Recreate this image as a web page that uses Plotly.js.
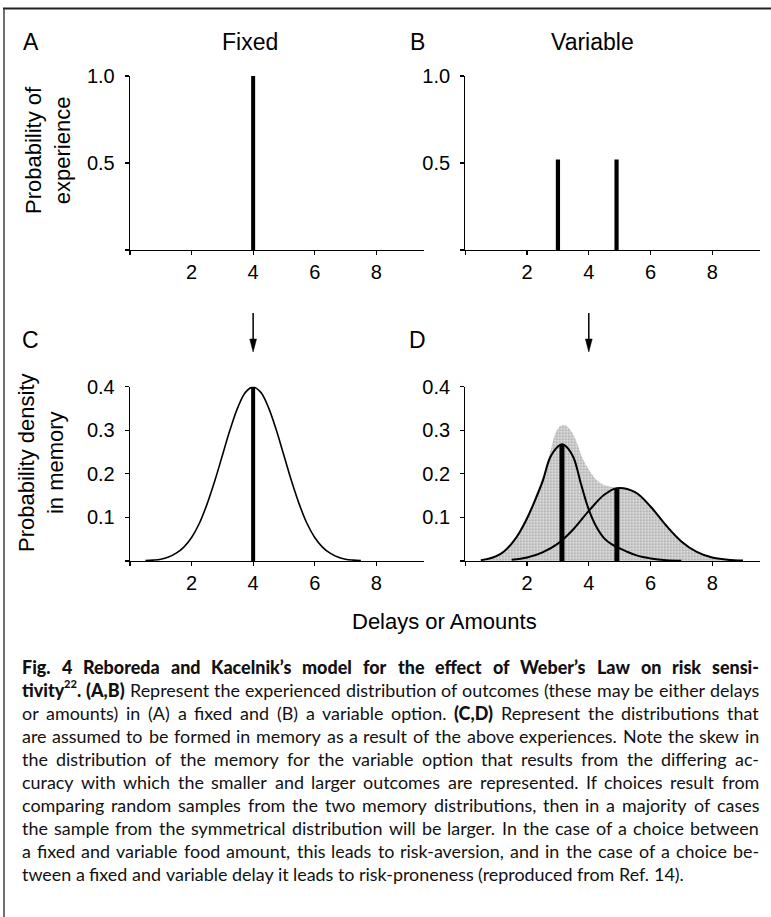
<!DOCTYPE html>
<html>
<head>
<meta charset="utf-8">
<script src="https://cdn.plot.ly/plotly-3.0.1.min.js"></script>
<style>
  html, body { margin: 0; padding: 0; background: #fff; }
  #chart { width: 771px; height: 917px; }
</style>
</head>
<body>
<div id="chart"></div>
<script>
// ---------------- data ----------------
const xTickVals = [0, 2, 4, 6, 8];
const xTickText = ['', '2', '4', '6', '8'];
const topTickVals = [0, 0.5, 1.0];
const topTickText = ['', '0.5', '1.0'];
const bottomTickVals = [0, 0.1, 0.2, 0.3, 0.4];
const bottomTickText = ['', '0.1', '0.2', '0.3', '0.4'];

// A: fixed option, experienced outcomes
const fixedX = [4];
const fixedProb = [1.0];
// B: variable option, experienced outcomes
const variableX = [3.0, 4.9];
const variableProb = [0.52, 0.52];

// C: memory of the fixed option
const memFixedX = [0.5, 0.75, 1, 1.25, 1.5, 1.75, 2, 2.25, 2.5, 2.75, 3, 3.25, 3.5, 3.75, 4,
                   4.25, 4.5, 4.75, 5, 5.25, 5.5, 5.75, 6, 6.25, 6.5, 6.75, 7, 7.25, 7.5];
const memFixedY = [0.001, 0.002, 0.004, 0.009, 0.018, 0.032, 0.054, 0.086, 0.130, 0.183, 0.242, 0.301, 0.352, 0.387, 0.399,
                   0.387, 0.352, 0.301, 0.242, 0.183, 0.130, 0.086, 0.054, 0.032, 0.018, 0.009, 0.004, 0.002, 0.001];
const memFixedMeanX = [4];
const memFixedMeanY = [0.4];

// D: memory of the variable option (small and large outcome)
const memSmallX = [0.5, 0.75, 1, 1.25, 1.5, 1.75, 2, 2.25, 2.5, 2.75, 3, 3.13, 3.25, 3.5, 3.75, 4,
                   4.25, 4.5, 4.75, 5, 5.25, 5.5, 5.75, 6, 6.5, 7];
const memSmallY = [0.002, 0.005, 0.011, 0.022, 0.040, 0.065, 0.098, 0.138, 0.182, 0.238, 0.263, 0.268, 0.264, 0.238, 0.176, 0.118,
                   0.078, 0.052, 0.038, 0.029, 0.021, 0.014, 0.009, 0.006, 0.002, 0.0005];
const memLargeX = [1.5, 2, 2.5, 3, 3.5, 4, 4.5, 4.9, 5.5, 6, 6.5, 7, 7.5, 8, 8.5, 9];
const memLargeY = [0.003, 0.008, 0.020, 0.040, 0.073, 0.115, 0.152, 0.167, 0.158, 0.125, 0.082, 0.045, 0.021, 0.008, 0.003, 0.001];
const memCombinedX = [0.5, 1, 1.5, 2, 2.25, 2.5, 2.75, 2.9, 3.05, 3.2, 3.35, 3.5, 3.65, 3.8, 4,
                      4.2, 4.4, 4.6, 4.9, 5.5, 6, 6.5, 7, 7.5, 8, 8.5, 9];
const memCombinedY = [0.002, 0.012, 0.042, 0.104, 0.146, 0.193, 0.25, 0.29, 0.308, 0.312, 0.305, 0.29, 0.265, 0.235, 0.21,
                      0.19, 0.178, 0.172, 0.168, 0.16, 0.128, 0.085, 0.047, 0.022, 0.009, 0.003, 0.001];
const memVarMeanX = [3.13, 4.91];
const memVarMeanY = [0.268, 0.167];

// text
const panelLetters = ['A', 'B', 'C', 'D'];
const panelTitles = ['Fixed', 'Variable'];
const yTitleTop = 'Probability of<br>experience';
const yTitleBottom = 'Probability density<br>in memory';
const xTitle = 'Delays or Amounts';
const captionLines = [
  '<b>Fig. 4 Reboreda and Kacelnik’s model for the effect of Weber’s Law on risk sensi-</b>',
  '<b>tivity<sup>22</sup>. (A,B)</b> Represent the experienced distribution of outcomes (these may be either delays',
  'or amounts) in (A) a fixed and (B) a variable option. <b>(C,D)</b> Represent the distributions that',
  'are assumed to be formed in memory as a result of the above experiences. Note the skew in',
  'the distribution of the memory for the variable option that results from the differing ac-',
  'curacy with which the smaller and larger outcomes are represented. If choices result from',
  'comparing random samples from the two memory distributions, then in a majority of cases',
  'the sample from the symmetrical distribution will be larger. In the case of a choice between',
  'a fixed and variable food amount, this leads to risk-aversion, and in the case of a choice be-',
  'tween a fixed and variable delay it leads to risk-proneness (reproduced from Ref. 14).'
];

// ---------------- layout helpers ----------------
const W = 771, H = 917;
const px = v => v / W;
const py = v => 1 - v / H;
const FONT = 'Liberation Sans, Arial, Helvetica, sans-serif';
const CAP_FONT = 'Lato';

const leftDom = [px(130), px(424)];
const rightDom = [px(465.4), px(760)];
const topDom = [py(250), py(76)];
const botDom = [py(561), py(386.7)];

const axisBase = {
  showline: true, linecolor: '#000', linewidth: 1.3,
  ticks: 'outside', ticklen: 4, tickwidth: 1.2, tickcolor: '#000',
  showgrid: false, zeroline: false, fixedrange: true,
  tickfont: { family: FONT, size: 20, color: '#000' },
  tickmode: 'array'
};
function xAxis(dom, anchor) {
  return Object.assign({}, axisBase, { domain: dom, anchor: anchor, range: [0, 9.55],
    tickvals: xTickVals, ticktext: xTickText, ticklabelstandoff: 0 });
}
function yAxis(dom, anchor, range, vals, text) {
  return Object.assign({}, axisBase, { domain: dom, anchor: anchor, range: range,
    tickvals: vals, ticktext: text, ticklabelstandoff: 6 });
}

// vertical stems built from (x, height) arrays
function stems(xs, ys) {
  const x = [], y = [];
  xs.forEach((v, i) => { x.push(v, v, null); y.push(0, ys[i], null); });
  return { x: x, y: y };
}
function stemTrace(xs, ys, xa, ya, w) {
  const s = stems(xs, ys);
  return { type: 'scatter', mode: 'lines', x: s.x, y: s.y, xaxis: xa, yaxis: ya,
    connectgaps: false, line: { color: '#000', width: w } };
}

// ---------------- traces ----------------
const traces = [
  stemTrace(fixedX, fixedProb, 'x', 'y', 4),
  stemTrace(variableX, variableProb, 'x2', 'y2', 4.2),
  { type: 'scatter', mode: 'lines', x: memFixedX, y: memFixedY, xaxis: 'x3', yaxis: 'y3',
    line: { color: '#000', width: 1.6, shape: 'spline', smoothing: 1 } },
  stemTrace(memFixedMeanX, memFixedMeanY, 'x3', 'y3', 4),
  { type: 'scatter', mode: 'lines', x: memCombinedX, y: memCombinedY, xaxis: 'x4', yaxis: 'y4',
    fill: 'tozeroy', fillcolor: '#cdcdcd',
    fillpattern: { shape: '.', bgcolor: '#dedede', fgcolor: '#9a9a9a', size: 3, solidity: 0.3 },
    line: { width: 0, color: 'rgba(0,0,0,0)', shape: 'spline', smoothing: 1 } },
  { type: 'scatter', mode: 'lines', x: memSmallX, y: memSmallY, xaxis: 'x4', yaxis: 'y4',
    line: { color: '#000', width: 2, shape: 'spline', smoothing: 1 } },
  { type: 'scatter', mode: 'lines', x: memLargeX, y: memLargeY, xaxis: 'x4', yaxis: 'y4',
    line: { color: '#000', width: 2, shape: 'spline', smoothing: 1 } },
  stemTrace(memVarMeanX, memVarMeanY, 'x4', 'y4', 5)
];

// ---------------- annotations ----------------
const ann = [];
function txt(text, x, y, size, extra) {
  ann.push(Object.assign({ text: text, x: px(x), y: py(y), xref: 'paper', yref: 'paper',
    xanchor: 'center', yanchor: 'middle', showarrow: false,
    font: { family: FONT, size: size, color: '#000' } }, extra || {}));
}
txt(panelLetters[0], 31, 42, 23);
txt(panelLetters[1], 417, 42, 23);
txt(panelLetters[2], 30, 340, 23);
txt(panelLetters[3], 418, 340, 23);
txt(panelTitles[0], 250, 42, 23);
txt(panelTitles[1], 592, 42, 23);
txt(yTitleTop, 48, 150, 22, { textangle: -90 });
txt(yTitleBottom, 41, 463, 22, { textangle: -90 });
txt(xTitle, 445, 621, 22);

// justified caption
const ctx = document.createElement('canvas').getContext('2d');
const BOLD_W = 900;
function parseLine(line) {
  const words = []; let cur = []; let bold = false, sup = false;
  line.split(/(<\/?b>|<\/?sup>)/).forEach(p => {
    if (p === '<b>') { bold = true; return; }
    if (p === '</b>') { bold = false; return; }
    if (p === '<sup>') { sup = true; return; }
    if (p === '</sup>') { sup = false; return; }
    if (!p) return;
    p.split(' ').forEach((t, i) => {
      if (i > 0) { if (cur.length) words.push(cur); cur = []; }
      if (t) cur.push({ text: t, bold: bold, sup: sup });
    });
  });
  if (cur.length) words.push(cur);
  return words;
}
function segSize(seg, size) { return seg.sup ? size * 0.62 : size; }
function segWidth(seg, size) {
  ctx.font = (seg.bold ? BOLD_W + ' ' : '400 ') + segSize(seg, size) + 'px "' + CAP_FONT + '"';
  return ctx.measureText(seg.text).width;
}
function wordWidth(w, size) { return w.reduce((s, g) => s + segWidth(g, size), 0); }
function spaceWidth(size) { ctx.font = '400 ' + size + 'px "' + CAP_FONT + '"'; return ctx.measureText(' ').width; }

const capLeft = 21, capRight = 758, capTop = 667, capStep = 23, lastLineRight = 712;
const capW = capRight - capLeft;
const parsed = captionLines.map(parseLine);
const s0 = 15;
function natural(words, s) {
  return words.reduce((a, w) => a + wordWidth(w, s), 0) + (words.length - 1) * spaceWidth(s);
}
let maxNat = 0;
parsed.forEach((words, i) => { if (i < parsed.length - 1) maxNat = Math.max(maxNat, natural(words, s0)); });
const lastNat = natural(parsed[parsed.length - 1], s0);
const capSize = Math.min(s0 * capW * 0.995 / maxNat, s0 * (lastLineRight - capLeft) / lastNat);

parsed.forEach((words, i) => {
  const yc = capTop + capStep * i;
  const widths = words.map(w => wordWidth(w, capSize));
  const total = widths.reduce((a, b) => a + b, 0);
  const last = i === parsed.length - 1;
  const gap = last ? spaceWidth(capSize) : (capW - total) / (words.length - 1);
  let x = capLeft;
  words.forEach((w, k) => {
    let xs = x;
    w.forEach(g => {
      const sz = segSize(g, capSize);
      ann.push({ text: g.text, x: px(xs), y: py(g.sup ? yc - capSize * 0.38 : yc),
        xref: 'paper', yref: 'paper', xanchor: 'left', yanchor: 'middle', showarrow: false,
        borderpad: 0,
        font: { family: CAP_FONT, size: sz, color: '#111', weight: g.bold ? BOLD_W : 400 } });
      xs += segWidth(g, capSize);
    });
    x += widths[k] + gap;
  });
});

// ---------------- shapes: frame and arrows ----------------
const shapes = [
  { type: 'line', xref: 'paper', yref: 'paper', x0: px(3), x1: 1, y0: py(8.5), y1: py(8.5),
    line: { color: '#222', width: 2 } },
  { type: 'line', xref: 'paper', yref: 'paper', x0: px(4), x1: px(4), y0: py(8), y1: 0,
    line: { color: '#333', width: 1.4 } }
];
const halfHead = 3.4 / 30.8;
[['x3', 4], ['x4', 4]].forEach(([xr, xv]) => {
  shapes.push({ type: 'line', xref: xr, yref: 'paper', x0: xv, x1: xv, y0: py(313), y1: py(342),
    line: { color: '#000', width: 1.5 } });
  shapes.push({ type: 'path', xref: xr, yref: 'paper',
    path: 'M ' + (xv - halfHead) + ' ' + py(339) + ' L ' + (xv + halfHead) + ' ' + py(339) +
          ' L ' + xv + ' ' + py(352) + ' Z',
    fillcolor: '#000', line: { color: '#000', width: 0.5 } });
});

const layout = {
  width: W, height: H,
  margin: { l: 0, r: 0, t: 0, b: 0 },
  paper_bgcolor: '#fff', plot_bgcolor: 'rgba(0,0,0,0)',
  showlegend: false,
  xaxis: xAxis(leftDom, 'y'),
  yaxis: yAxis(topDom, 'x', [0, 1.0], topTickVals, topTickText),
  xaxis2: xAxis(rightDom, 'y2'),
  yaxis2: yAxis(topDom, 'x2', [0, 1.0], topTickVals, topTickText),
  xaxis3: xAxis(leftDom, 'y3'),
  yaxis3: yAxis(botDom, 'x3', [0, 0.4], bottomTickVals, bottomTickText),
  xaxis4: xAxis(rightDom, 'y4'),
  yaxis4: yAxis(botDom, 'x4', [0, 0.4], bottomTickVals, bottomTickText),
  annotations: ann,
  shapes: shapes
};

Plotly.newPlot('chart', traces, layout, { staticPlot: true, displayModeBar: false });
</script>
</body>
</html>
